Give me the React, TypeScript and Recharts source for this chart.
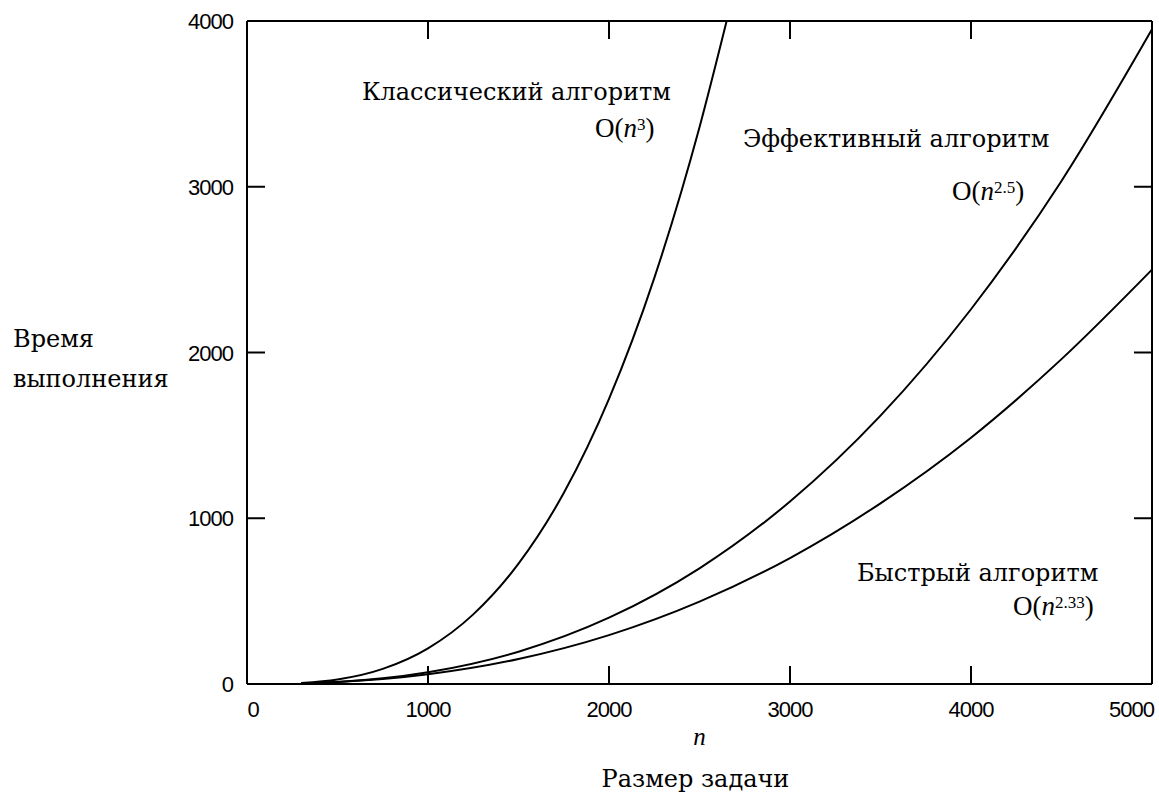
import { LineChart, Line, XAxis, YAxis, ReferenceDot } from "recharts";

// axis ticks
const nTicks = [0, 1000, 2000, 3000, 4000, 5000];
const timeTicks = [0, 1000, 2000, 3000, 4000];

// O(n^3)
const classicN = [300, 500, 750, 1000, 1250, 1500, 1750, 2000, 2250, 2500, 2650];
const classicTime = [6, 27, 91, 215, 420, 726, 1152, 1720, 2449, 3359, 4000];

// O(n^2.5)
const effectiveN = [300, 500, 750, 1000, 1500, 2000, 2500, 3000, 3500, 4000, 4500, 5000];
const effectiveTime = [4, 12, 34, 71, 195, 400, 698, 1101, 1619, 2261, 3035, 3950];

// O(n^2.33)
const fastN = [300, 500, 750, 1000, 1500, 2000, 2500, 3000, 3500, 4000, 4500, 5000];
const fastTime = [4, 12, 30, 59, 151, 295, 497, 760, 1090, 1486, 1960, 2500];

const toRows = (ns: number[], ts: number[]) => ns.map((n, i) => ({ n, t: ts[i] }));

const classicData = toRows(classicN, classicTime);
const effectiveData = toRows(effectiveN, effectiveTime);
const fastData = toRows(fastN, fastTime);

const SERIF = "'DejaVu Serif', serif";
const OFONT = "'Liberation Serif', serif";
const TICKFONT = "'Liberation Sans', sans-serif";
const TICK_LEN = 18;

// plot box size (chart size minus margins and axis sizes)
const PLOT_W = 905;
const PLOT_H = 663;

function BottomTick(props: any) {
  const { x, y, payload } = props;
  const last = payload.value === nTicks[nTicks.length - 1];
  const first = payload.value === nTicks[0];
  const top = y - PLOT_H;
  return (
    <g>
      <line x1={x} y1={y} x2={x} y2={y - TICK_LEN} stroke="#000" strokeWidth={2} />
      <line x1={x} y1={top} x2={x} y2={top + TICK_LEN} stroke="#000" strokeWidth={2} />
      <text
        x={last ? x + 2 : first ? x + 6 : x}
        y={y + 33}
        textAnchor={last ? "end" : "middle"}
        fontFamily={TICKFONT}
        fontSize={22}
        letterSpacing={-1}
        fill="#000"
      >
        {payload.value}
      </text>
    </g>
  );
}

function LeftTick(props: any) {
  const { x, y, payload } = props;
  const right = x + PLOT_W;
  return (
    <g>
      <line x1={x} y1={y} x2={x + TICK_LEN} y2={y} stroke="#000" strokeWidth={2} />
      <line x1={right} y1={y} x2={right - TICK_LEN} y2={y} stroke="#000" strokeWidth={2} />
      <text
        x={x - 14}
        y={y + 8}
        textAnchor="end"
        fontFamily={TICKFONT}
        fontSize={22}
        letterSpacing={-1}
        fill="#000"
      >
        {payload.value}
      </text>
    </g>
  );
}

function Caption({ cx, cy, text }: any) {
  return (
    <text x={cx} y={cy} fontFamily={SERIF} fontSize={24} fill="#000">
      {text}
    </text>
  );
}

function BigO({ cx, cy, power }: any) {
  return (
    <text x={cx} y={cy} fontFamily={OFONT} fontSize={27} fill="#000">
      O(
      <tspan fontStyle="italic">n</tspan>
      <tspan dy={-7} fontSize={17}>{power}</tspan>
      <tspan dy={7}>)</tspan>
    </text>
  );
}

export default function App() {
  return (
    <div style={{ position: "absolute", left: 0, top: 0, background: "#fff" }}>
      <LineChart
        width={1159}
        height={792}
        margin={{ top: 20, right: 6, bottom: 78, left: 187 }}
      >
        <XAxis
          xAxisId="bottom"
          dataKey="n"
          type="number"
          domain={[0, 5000]}
          ticks={nTicks}
          height={30}
          tickSize={0}
          tickMargin={0}
          tickLine={false}
          interval={0}
          axisLine={{ stroke: "#000", strokeWidth: 2 }}
          tick={<BottomTick />}
          label={{
            content: (p: any) => {
              const vb = p.viewBox;
              const cx = vb.x + vb.width / 2;
              return (
                <g>
                  <text x={cx} y={vb.y + 61} textAnchor="middle" fontFamily={OFONT} fontStyle="italic" fontSize={25} fill="#000">
                    n
                  </text>
                  <text x={cx - 4} y={vb.y + 103} textAnchor="middle" fontFamily={SERIF} fontSize={24} fill="#000">
                    Размер задачи
                  </text>
                </g>
              );
            },
          }}
        />
        <XAxis
          xAxisId="top"
          orientation="top"
          type="number"
          domain={[0, 5000]}
          height={1}
          tick={false}
          tickLine={false}
          axisLine={{ stroke: "#000", strokeWidth: 2 }}
        />
        <YAxis
          yAxisId="left"
          type="number"
          domain={[0, 4000]}
          ticks={timeTicks}
          width={60}
          tickSize={0}
          tickMargin={0}
          tickLine={false}
          interval={0}
          axisLine={{ stroke: "#000", strokeWidth: 2 }}
          tick={<LeftTick />}
          label={{
            content: () => (
              <g>
                <text x={13} y={347} fontFamily={SERIF} fontSize={24} fill="#000">Время</text>
                <text x={13} y={387} fontFamily={SERIF} fontSize={24} fill="#000">выполнения</text>
              </g>
            ),
          }}
        />
        <YAxis
          yAxisId="right"
          orientation="right"
          type="number"
          domain={[0, 4000]}
          width={1}
          tick={false}
          tickLine={false}
          axisLine={{ stroke: "#000", strokeWidth: 2 }}
        />

        <Line xAxisId="bottom" yAxisId="left" data={classicData} dataKey="t" type="monotone" stroke="#000" strokeWidth={2} dot={false} isAnimationActive={false} />
        <Line xAxisId="bottom" yAxisId="left" data={effectiveData} dataKey="t" type="monotone" stroke="#000" strokeWidth={2} dot={false} isAnimationActive={false} />
        <Line xAxisId="bottom" yAxisId="left" data={fastData} dataKey="t" type="monotone" stroke="#000" strokeWidth={2} dot={false} isAnimationActive={false} />

        <ReferenceDot xAxisId="bottom" yAxisId="left" x={635} y={3523} r={1} shape={(p: any) => <Caption cx={p.cx} cy={p.cy} text="Классический алгоритм" />} />
        <ReferenceDot xAxisId="bottom" yAxisId="left" x={1923} y={3300} r={1} shape={(p: any) => <BigO cx={p.cx} cy={p.cy} power="3" />} />
        <ReferenceDot xAxisId="bottom" yAxisId="left" x={2740} y={3240} r={1} shape={(p: any) => <Caption cx={p.cx} cy={p.cy} text="Эффективный алгоритм" />} />
        <ReferenceDot xAxisId="bottom" yAxisId="left" x={3895} y={2920} r={1} shape={(p: any) => <BigO cx={p.cx} cy={p.cy} power="2.5" />} />
        <ReferenceDot xAxisId="bottom" yAxisId="left" x={3370} y={620} r={1} shape={(p: any) => <Caption cx={p.cx} cy={p.cy} text="Быстрый алгоритм" />} />
        <ReferenceDot xAxisId="bottom" yAxisId="left" x={4232} y={418} r={1} shape={(p: any) => <BigO cx={p.cx} cy={p.cy} power="2.33" />} />
      </LineChart>
    </div>
  );
}
